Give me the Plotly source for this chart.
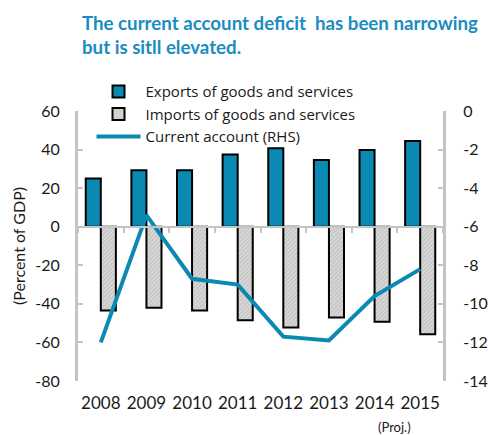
import plotly.graph_objects as go

years = ["2008", "2009", "2010", "2011", "2012", "2013", "2014", "2015"]
exports = [25.0, 29.3, 29.3, 37.4, 40.7, 34.6, 39.8, 44.4]
imports = [-43.4, -42.0, -43.4, -48.5, -52.2, -47.1, -49.3, -55.8]
current_account = [-12.0, -5.4, -8.7, -9.0, -11.7, -11.9, -9.6, -8.2]

left_ticks = [60, 40, 20, 0, -20, -40, -60, -80]
left_labels = ["60", "40", "20", "0", "-20", "-40", "-60", "-80"]
right_ticks = [0, -2, -4, -6, -8, -10, -12, -14]
right_labels = ["0", "-2", "-4", "-6", "-8", "-10", "-12", "-14"]

FONT = "Lato"
TEAL = "#0A8AB2"
GREY = "#C4C4C4"
TXT = "#1a1a1a"

fig = go.Figure()
fig.add_trace(go.Bar(
    x=years, y=exports, name="Exports of goods and services",
    marker=dict(color=TEAL, line=dict(color="black", width=2)),
    xaxis="x", yaxis="y"))
fig.add_trace(go.Bar(
    x=years, y=imports, name="Imports of goods and services",
    marker=dict(color="#d0d0d0", line=dict(color="black", width=2),
                pattern=dict(shape="/", size=3, fgcolor="#9a9a9a", bgcolor="#d8d8d8", solidity=0.3)),
    xaxis="x", yaxis="y"))
fig.add_trace(go.Scatter(
    x=years, y=current_account, name="Current account (RHS)",
    mode="lines", line=dict(color=TEAL, width=4),
    xaxis="x2", yaxis="y2"))

zero_pos = (0 - (-80)) / (60 - (-80))
xr = [-0.5, len(years) - 0.5]
proj_x = (len(years) - 0.5) / len(years)  # centre of the last category, in paper units

fig.update_layout(
    width=489, height=435,
    margin=dict(l=78, r=46, t=111, b=54, autoexpand=False),
    paper_bgcolor="white", plot_bgcolor="white",
    font=dict(family=FONT, color=TXT, size=16),
    barmode="group", bargap=0.34, bargroupgap=0.0,
    legend=dict(x=0.037, y=1.132, xanchor="left", yanchor="top",
                bgcolor="rgba(0,0,0,0)", font=dict(size=15, family="Open Sans", color=TXT),
                tracegroupgap=0, itemwidth=44, traceorder="normal"),
    xaxis=dict(domain=[0, 1], type="category", categoryarray=years, range=xr,
               anchor="free", position=zero_pos,
               showline=True, linecolor=GREY, linewidth=2,
               ticks="outside", tickson="boundaries", ticklen=5, tickcolor=GREY, tickwidth=2,
               showticklabels=False, showgrid=False, zeroline=False),
    xaxis2=dict(domain=[0, 1], type="category", categoryarray=years, range=xr,
                overlaying="x", anchor="y", side="bottom",
                showline=False, ticks="", showgrid=False, zeroline=False,
                tickfont=dict(size=17, family=FONT, color=TXT), ticklabelstandoff=10),
    yaxis=dict(range=[-80, 60], tickvals=left_ticks, ticktext=left_labels, anchor="x",
               showline=True, linecolor=GREY, linewidth=3,
               ticks="inside", ticklen=5, tickcolor=GREY, tickwidth=2,
               showgrid=False, zeroline=False, ticklabelstandoff=12,
               tickfont=dict(size=16, family=FONT, color=TXT),
               title=dict(text="(Percent of GDP)", font=dict(size=16, family=FONT, color=TXT), standoff=6)),
    yaxis2=dict(range=[-14, 0], tickvals=right_ticks, ticktext=right_labels,
                overlaying="y", side="right", anchor="x",
                showline=True, linecolor=GREY, linewidth=3,
                ticks="inside", ticklen=5, tickcolor=GREY, tickwidth=2,
                showgrid=False, zeroline=False, ticklabelstandoff=14,
                tickfont=dict(size=16, family=FONT, color=TXT)),
)

fig.add_annotation(text="<b>The current account deficit  has been narrowing<br>but is sitll elevated.</b>",
                   x=0.005, xref="paper", xanchor="left", y=1.374, yref="paper", yanchor="top",
                   align="left", showarrow=False,
                   font=dict(family=FONT, size=18.7, color="#1A8CC0"))
fig.add_annotation(text="(Proj.)", x=proj_x, xref="paper", y=-0.135, yref="paper", yanchor="top",
                   showarrow=False, xshift=-7, font=dict(size=13, family=FONT, color=TXT))

fig.write_html("out.html", post_script="document.body.style.margin='0px';",
               config={"displayModeBar": False})
